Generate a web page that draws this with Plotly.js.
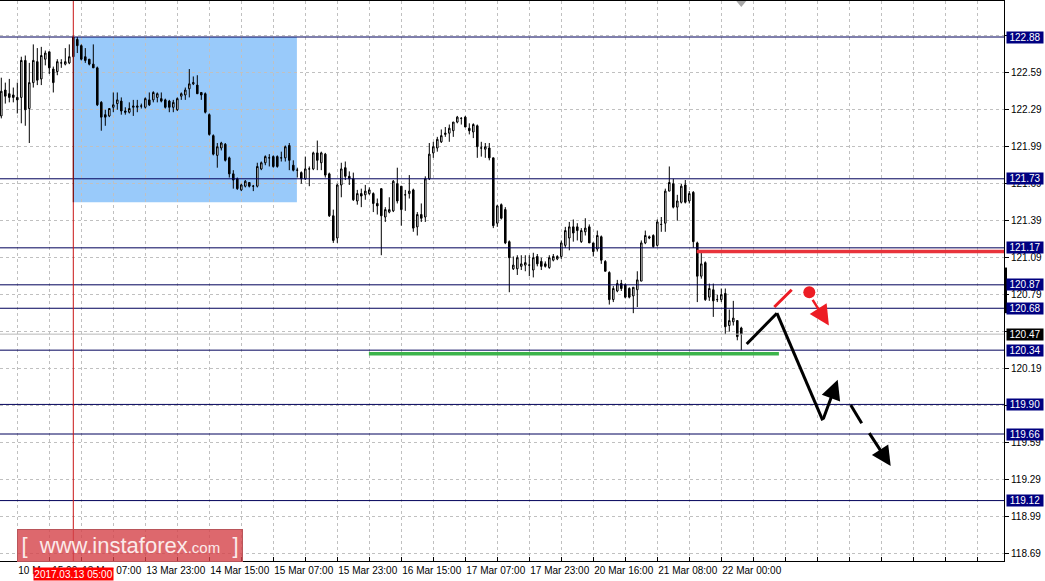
<!DOCTYPE html>
<html><head><meta charset="utf-8">
<script src="https://cdn.plot.ly/plotly-3.0.1.min.js"></script>
<style>html,body{margin:0;padding:0;background:#fff;overflow:hidden}#chart{width:1045px;height:581px}</style>
</head><body><div id="chart"></div>
<script>
// USD/JPY H1 candles (price values)
const openP = [122.24,122.45,122.42,122.41,122.39,122.39,122.69,122.30,122.51,122.68,122.54,122.70,122.76,122.62,122.60,122.67,122.66,122.67,122.72,122.86,
122.81,122.72,122.70,122.66,122.63,122.35,122.25,122.24,122.31,122.34,122.36,122.28,122.27,122.31,122.31,122.32,122.31,122.37,122.37,122.39,
122.38,122.37,122.36,122.31,122.29,122.40,122.41,122.46,122.50,122.49,122.43,122.42,122.25,122.08,121.92,121.98,122.01,121.90,121.77,121.73,
121.64,121.67,121.70,121.67,121.67,121.81,121.86,121.90,121.91,121.91,121.90,121.90,122.00,121.84,121.80,121.78,121.73,121.81,121.81,121.94,
121.86,121.93,121.77,121.43,121.25,121.68,121.82,121.75,121.73,121.55,121.61,121.60,121.61,121.61,121.53,121.65,121.42,121.46,121.47,121.69,
121.67,121.60,121.61,121.64,121.34,121.44,121.42,121.73,121.94,121.98,122.03,122.09,122.10,122.12,122.19,122.22,122.23,122.14,122.11,122.16,
121.98,121.97,121.98,121.90,121.37,121.52,121.48,121.22,121.00,121.00,121.02,121.03,121.03,120.99,121.10,121.06,121.04,121.01,121.07,121.08,
121.10,121.19,121.25,121.34,121.34,121.22,121.30,121.34,121.21,121.16,121.26,121.06,120.97,120.75,120.82,120.88,120.87,120.84,120.78,120.83,
120.90,121.21,121.26,121.27,121.19,121.36,121.37,121.63,121.69,121.50,121.54,121.68,121.55,121.62,121.21,120.94,121.05,120.77,120.83,120.75,
120.75,120.80,120.54,120.57,120.58,120.52];
const highP = [122.55,122.51,122.54,122.47,122.51,122.72,122.73,122.67,122.82,122.79,122.80,122.77,122.76,122.64,122.70,122.70,122.79,122.82,122.89,122.88,
122.82,122.79,122.70,122.82,122.64,122.36,122.29,122.30,122.43,122.43,122.39,122.31,122.35,122.37,122.37,122.34,122.39,122.43,122.44,122.43,
122.43,122.38,122.37,122.37,122.39,122.43,122.47,122.62,122.56,122.57,122.43,122.43,122.26,122.09,122.02,122.03,122.02,121.91,121.80,121.74,
121.69,121.72,121.70,121.68,121.86,121.87,121.92,121.93,121.92,121.92,121.95,122.00,122.02,121.88,121.82,121.79,121.91,121.83,121.95,122.04,
121.95,121.94,121.78,121.48,121.69,121.86,121.87,121.79,121.78,121.64,121.65,121.68,121.66,121.62,121.57,121.65,121.50,121.58,121.72,121.82,
121.67,121.64,121.76,121.65,121.46,121.53,121.75,122.02,122.03,122.07,122.13,122.15,122.17,122.19,122.24,122.23,122.24,122.18,122.18,122.17,
122.03,122.02,122.02,121.90,121.52,121.53,121.50,121.23,121.10,121.11,121.11,121.11,121.11,121.13,121.12,121.09,121.06,121.11,121.12,121.11,
121.23,121.34,121.38,121.40,121.37,121.33,121.41,121.36,121.21,121.31,121.27,121.07,120.98,120.86,120.91,120.91,120.88,120.85,120.85,120.98,
121.23,121.31,121.27,121.28,121.40,121.42,121.65,121.83,121.73,121.60,121.69,121.72,121.63,121.63,121.22,121.13,121.06,120.88,120.88,120.79,
120.84,120.84,120.67,120.74,120.58,120.53];
const lowP = [122.22,122.34,122.35,122.35,122.26,122.18,122.16,122.02,122.47,122.49,122.49,122.65,122.58,122.43,122.57,122.63,122.65,122.66,122.72,122.75,
122.69,122.67,122.65,122.63,122.32,122.12,122.16,122.23,122.27,122.29,122.25,122.25,122.26,122.24,122.27,122.30,122.30,122.32,122.35,122.35,
122.35,122.30,122.27,122.27,122.28,122.37,122.37,122.39,122.49,122.42,122.37,122.26,122.08,121.92,121.82,121.96,121.87,121.74,121.65,121.64,
121.63,121.66,121.66,121.63,121.66,121.80,121.84,121.83,121.82,121.82,121.87,121.87,121.80,121.79,121.74,121.69,121.72,121.67,121.80,121.80,
121.80,121.74,121.42,121.21,121.21,121.58,121.72,121.68,121.55,121.52,121.50,121.56,121.60,121.46,121.44,121.11,121.38,121.45,121.46,121.53,
121.35,121.47,121.57,121.30,121.27,121.38,121.38,121.72,121.90,121.95,122.02,122.07,122.03,122.07,122.18,122.17,122.15,122.09,122.06,121.90,
121.91,121.90,121.88,121.33,121.34,121.40,121.20,120.81,120.99,120.95,120.99,120.98,120.94,120.93,121.02,120.99,121.01,121.00,121.06,121.07,
121.08,121.17,121.15,121.22,121.23,121.21,121.27,121.21,121.10,121.14,121.04,120.98,120.71,120.73,120.81,120.82,120.76,120.76,120.64,120.69,
120.90,121.20,121.24,121.17,121.18,121.30,121.30,121.63,121.49,121.39,121.53,121.53,121.53,121.17,120.73,120.92,120.74,120.74,120.61,120.73,
120.73,120.47,120.49,120.54,120.42,120.34];
const closeP = [122.44,122.40,122.39,122.39,122.37,122.69,122.29,122.51,122.69,122.53,122.73,122.75,122.63,122.51,122.68,122.67,122.68,122.72,122.88,122.81,
122.70,122.69,122.66,122.63,122.33,122.23,122.23,122.30,122.33,122.37,122.28,122.27,122.30,122.32,122.32,122.32,122.38,122.33,122.43,122.42,
122.36,122.31,122.31,122.35,122.38,122.42,122.45,122.50,122.51,122.42,122.41,122.27,122.09,121.93,121.99,122.02,121.88,121.77,121.72,121.65,
121.68,121.71,121.67,121.67,121.83,121.86,121.91,121.90,121.83,121.83,121.90,121.99,121.88,121.80,121.80,121.73,121.81,121.81,121.94,121.88,
121.94,121.76,121.43,121.23,121.68,121.81,121.75,121.73,121.56,121.61,121.59,121.63,121.64,121.53,121.51,121.43,121.48,121.48,121.71,121.55,
121.48,121.60,121.63,121.33,121.44,121.41,121.73,121.93,121.99,122.05,122.08,122.10,122.14,122.19,122.23,122.22,122.15,122.12,122.17,121.99,
121.98,121.99,121.90,121.35,121.51,121.41,121.21,121.09,121.03,121.09,121.04,121.05,121.03,121.09,121.04,121.02,121.02,121.09,121.10,121.10,
121.21,121.31,121.34,121.29,121.31,121.31,121.33,121.21,121.14,121.27,121.07,120.98,120.75,120.84,120.88,120.84,120.77,120.77,120.85,120.91,
121.21,121.27,121.25,121.18,121.38,121.36,121.63,121.70,121.50,121.55,121.67,121.54,121.61,121.22,120.94,121.04,120.75,120.84,120.74,120.75,
120.79,120.53,120.58,120.60,120.45,120.47];

// time axis: bar index of each labelled / unlabelled tick
const xTickIdx = [4,12,20,28,36,44,52,60,68,76,84,92,100,108,116,124,132,140,148,156,164,172,180,188,196,204,212,220,228,236,244];
const xTickText = ['10 Mar 15:00','','13 Mar 07:00','','13 Mar 23:00','','14 Mar 15:00','','15 Mar 07:00','','15 Mar 23:00','','16 Mar 15:00','','17 Mar 07:00','','17 Mar 23:00','','20 Mar 16:00','','21 Mar 08:00','','22 Mar 00:00','','','','','','','',''];
// price grid (labels of the three grid levels that sit fully under level boxes are not shown)
const yTickVals = [118.69,118.99,119.29,119.59,119.89,120.19,120.49,120.79,121.09,121.39,121.69,121.99,122.29,122.59,122.89];
const yTickText = ['118.69','118.99','119.29','119.59','','120.19','','120.79','121.09','121.39','121.69','121.99','122.29','122.59',''];

// horizontal levels and marked objects
const levelPrices = [122.88,121.73,121.17,120.87,120.68,120.34,119.90,119.66,119.12];
const bidPrice = 120.47;
const markedBar = 18;
const markedLabel = '2017.03.13 05:00';
const zoneX = [18, 73.9];
const zoneY = [121.54, 122.88];
const supportX = [91.9, 194.4];
const supportPrice = 120.31;
const resistX = [173.85, 250.7];
const resistPrice = 121.14;
const pathX = [186.35, 193.9, 205.35, 209.1];
const pathY = [120.39, 120.64, 119.77, 120.10];
const dashX = [212.35, 215.1, 216.75, 222.35];
const dashY = [119.895, 119.747, 119.679, 119.40];
const altX = [193.25, 197.6];
const altY = [120.69, 120.83];
const altDotX = 202, altDotY = 120.81;
const altArrowX = [202.6, 206.9];
const altArrowY = [120.76, 120.54];

const xIdx = openP.map((_, i) => i);
const FONT = 'Liberation Sans, Arial, sans-serif';

const trace = {
  type: 'candlestick', x: xIdx, open: openP, high: highP, low: lowP, close: closeP,
  increasing: {line: {color: '#000000', width: 1}, fillcolor: '#ffffff'},
  decreasing: {line: {color: '#000000', width: 1}, fillcolor: '#000000'},
  whiskerwidth: 0, hoverinfo: 'skip', showlegend: false
};

const shapes = [];
shapes.push({type:'rect', layer:'below', xref:'x', yref:'y', x0:zoneX[0], x1:zoneX[1], y0:zoneY[0], y1:zoneY[1],
  fillcolor:'rgb(153,202,250)', line:{width:0}});
shapes.push({type:'line', layer:'above', xref:'paper', yref:'y', x0:0, x1:1, y0:bidPrice, y1:bidPrice, line:{color:'#b8b8b8', width:1}});
levelPrices.forEach(p => shapes.push({type:'line', layer:'above', xref:'paper', yref:'y', x0:0, x1:1, y0:p, y1:p, line:{color:'#00005a', width:1}}));
shapes.push({type:'line', layer:'above', xref:'x', yref:'paper', x0:markedBar, x1:markedBar, y0:0, y1:1, line:{color:'#c81414', width:1}});
shapes.push({type:'line', layer:'above', xref:'x', yref:'y', x0:markedBar, x1:markedBar, y0:zoneY[0], y1:zoneY[1], line:{color:'#6a0e0e', width:1}});
shapes.push({type:'line', layer:'above', xref:'x', yref:'y', x0:supportX[0], x1:supportX[1], y0:supportPrice, y1:supportPrice, line:{color:'#3cb44b', width:3.5}});
shapes.push({type:'line', layer:'above', xref:'x', yref:'y', x0:resistX[0], x1:resistX[1], y0:resistPrice, y1:resistPrice, line:{color:'#e8333b', width:3.5}});
for (let k = 0; k < 2; k++) {
  shapes.push({type:'line', layer:'above', xref:'x', yref:'y', x0:pathX[k], x1:pathX[k+1], y0:pathY[k], y1:pathY[k+1], line:{color:'#000', width:3}});
}
shapes.push({type:'line', layer:'above', xref:'x', yref:'y', x0:dashX[0], x1:dashX[1], y0:dashY[0], y1:dashY[1], line:{color:'#000', width:3}});
shapes.push({type:'line', layer:'above', xref:'x', yref:'y', x0:altX[0], x1:altX[1], y0:altY[0], y1:altY[1], line:{color:'#ed1c24', width:3}});
shapes.push({type:'circle', layer:'above', xref:'x', yref:'y', xsizemode:'pixel', ysizemode:'pixel', xanchor:altDotX, yanchor:altDotY,
  x0:-6, x1:6, y0:-6, y1:6, fillcolor:'#ed1c24', line:{width:0}});
shapes.push({type:'path', layer:'above', xref:'x', yref:'paper', xsizemode:'pixel', ysizemode:'pixel', xanchor:xIdx[xIdx.length-1], yanchor:1,
  path:'M-5,0L5,0L0,-6Z', fillcolor:'#a8a8a8', line:{width:0}});
shapes.push({type:'rect', layer:'above', xref:'paper', yref:'y', x0:1, x1:1.003, y0:120.64, y1:121.01, fillcolor:'#000', line:{width:0}});

const annotations = [];
levelPrices.forEach(p => annotations.push({xref:'paper', yref:'y', x:1, y:p, xanchor:'left', yanchor:'middle', xshift:2,
  text:p.toFixed(2), showarrow:false, bgcolor:'#000080', font:{family:FONT, size:10, color:'#ffffff'}, width:36, height:11, borderpad:0}));
annotations.push({xref:'paper', yref:'y', x:1, y:bidPrice, xanchor:'left', yanchor:'middle', xshift:2,
  text:bidPrice.toFixed(2), showarrow:false, bgcolor:'#000000', font:{family:FONT, size:10, color:'#ffffff'}, width:36, height:11, borderpad:0});
annotations.push({xref:'x', yref:'y', axref:'x', ayref:'y', x:pathX[3], y:pathY[3], ax:pathX[2], ay:pathY[2], text:'',
  showarrow:true, arrowhead:2, arrowsize:1.3, arrowwidth:3, arrowcolor:'#000'});
annotations.push({xref:'x', yref:'y', axref:'x', ayref:'y', x:dashX[3], y:dashY[3], ax:dashX[2], ay:dashY[2], text:'',
  showarrow:true, arrowhead:2, arrowsize:1.3, arrowwidth:3, arrowcolor:'#000'});
annotations.push({xref:'x', yref:'y', axref:'x', ayref:'y', x:altArrowX[1], y:altArrowY[1], ax:altArrowX[0], ay:altArrowY[0], text:'',
  showarrow:true, arrowhead:2, arrowsize:1.6, arrowwidth:2.5, arrowcolor:'#ed1c24'});
annotations.push({xref:'x', yref:'paper', x:markedBar, y:0, xanchor:'center', yanchor:'top', yshift:-6,
  text:markedLabel, showarrow:false, bgcolor:'#ff0000', font:{family:FONT, size:10, color:'#ffffff'}, width:79, height:12, borderpad:0});
annotations.push({xref:'paper', yref:'paper', x:17/1004, y:32/560, xanchor:'left', yanchor:'top',
  text:'[  www.instaforex<span style="font-size:15px">.com</span>  ]', showarrow:false,
  bgcolor:'rgba(212,66,72,0.8)', bordercolor:'#b9555a', borderwidth:1, borderpad:0, width:224, height:31,
  font:{family:'Liberation Sans, Arial, sans-serif', size:22, color:'#fbeaea'}});

const layout = {
  width:1045, height:581, margin:{l:0, r:41, t:1, b:20, pad:0},
  paper_bgcolor:'#ffffff', plot_bgcolor:'#ffffff', showlegend:false, boxgap:0.45, hovermode:false,
  xaxis:{range:[-0.325, 250.675], tickmode:'array', tickvals:xTickIdx, ticktext:xTickText, tickangle:0,
    ticks:'inside', ticklen:4, tickcolor:'#000', showline:true, linecolor:'#000', linewidth:1, mirror:true,
    showgrid:true, gridcolor:'#c0c0c0', griddash:'3px,3px', gridwidth:1, zeroline:false,
    rangeslider:{visible:false}, ticklabelposition:'outside right', fixedrange:true,
    tickfont:{family:FONT, size:10, color:'#000'}},
  yaxis:{side:'right', range:[118.63, 123.172], tickmode:'array', tickvals:yTickVals, ticktext:yTickText,
    ticks:'outside', ticklen:4, tickcolor:'#000', showline:true, linecolor:'#000', linewidth:1,
    showgrid:true, gridcolor:'#c0c0c0', griddash:'3px,3px', gridwidth:1, zeroline:false, fixedrange:true,
    tickfont:{family:FONT, size:10, color:'#000'}},
  shapes:shapes, annotations:annotations
};

Plotly.newPlot('chart', [trace], layout, {displayModeBar:false, staticPlot:true});
</script></body></html>
